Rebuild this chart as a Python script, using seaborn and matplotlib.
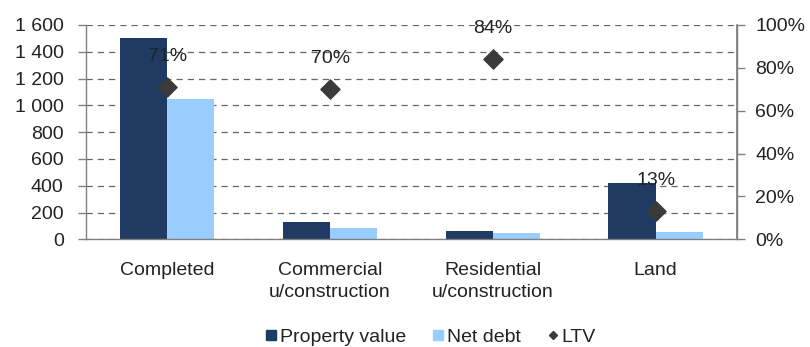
import matplotlib
matplotlib.use("Agg")
import matplotlib.pyplot as plt
import matplotlib.ticker as mticker
from matplotlib.lines import Line2D
import numpy as np
import pandas as pd
import seaborn as sns

categories = ["Completed", "Commercial\nu/construction", "Residential\nu/construction", "Land"]
property_value = [1500, 130, 60, 420]
net_debt = [1050, 85, 50, 55]
ltv = [71, 70, 84, 13]
ltv_labels = ["71%", "70%", "84%", "13%"]
series_names = ["Property value", "Net debt", "LTV"]

dark = "#1F3B63"
light = "#99CCFF"
marker_col = "#3A3A3A"
axis_col = "#808080"
text_col = "#222222"

sns.set_theme(style="white")
plt.rcParams["font.family"] = ["Liberation Sans", "DejaVu Sans"]
plt.rcParams["font.size"] = 14

df = pd.DataFrame({
    "category": categories * 2,
    "series": [series_names[0]] * 4 + [series_names[1]] * 4,
    "value": property_value + net_debt,
})

fig = plt.figure(figsize=(8.1, 3.47), dpi=100)
ax = fig.add_axes([0.106, 0.3104, 0.804, 0.6176])

sns.barplot(data=df, x="category", y="value", hue="series",
            palette=[dark, light], width=0.58, gap=0, dodge=True,
            saturation=1, legend=False, ax=ax, edgecolor="none")

ax.set_xlim(-0.5, 3.5)
ax.set_ylim(0, 1600)
ax.set_yticks(np.arange(0, 1601, 200))
ax.yaxis.set_major_formatter(mticker.FuncFormatter(lambda v, p: f"{int(v):,}".replace(",", " ")))
ax.set_xlabel("")
ax.set_ylabel("")

# category boundary ticks
ax.set_xticks([-0.5, 0.5, 1.5, 2.5, 3.5], minor=False)
ax.set_xticklabels([])
ax.set_xticks(range(4), minor=True)
ax.set_xticklabels(categories, minor=True, fontsize=14, color=text_col, linespacing=1.45)
ax.tick_params(axis="x", which="minor", length=0, pad=16)
ax.tick_params(axis="x", which="major", length=6, width=1, color=axis_col, direction="out")
ax.tick_params(axis="y", length=6, width=1, color=axis_col, direction="out",
               labelsize=14, labelcolor=text_col, pad=10)

ax.yaxis.grid(True, linestyle=(0, (5, 4)), color="#666666", linewidth=0.9)
ax.set_axisbelow(True)
for side in ["left", "bottom", "right"]:
    ax.spines[side].set_color(axis_col)
    ax.spines[side].set_linewidth(1)
ax.spines["top"].set_visible(False)

ax2 = ax.twinx()
ax2.set_ylim(0, 100)
ax2.scatter(range(4), ltv, marker="D", s=95, color=marker_col, zorder=5)
for i, (v, lab) in enumerate(zip(ltv, ltv_labels)):
    ax2.annotate(lab, (i, v), xytext=(0, 22), textcoords="offset points",
                 ha="center", va="center", fontsize=14, color=text_col)
ax2.set_yticks(np.arange(0, 101, 20))
ax2.yaxis.set_major_formatter(mticker.FuncFormatter(lambda v, p: f"{int(v)}%"))
ax2.tick_params(axis="y", length=6, width=1, color=axis_col, direction="out",
                labelsize=14, labelcolor=text_col, pad=7)
for side in ["left", "bottom", "top"]:
    ax2.spines[side].set_visible(False)
ax2.spines["right"].set_color(axis_col)
ax2.grid(False)
ax2.set_xlim(-0.5, 3.5)

handles = [
    Line2D([], [], marker="s", linestyle="none", color=dark, markersize=7),
    Line2D([], [], marker="s", linestyle="none", color=light, markersize=7),
    Line2D([], [], marker="D", linestyle="none", color=marker_col, markersize=4.5),
]
fig.legend(handles, series_names, loc="center", bbox_to_anchor=(0.53, 0.028),
           ncol=3, frameon=False, fontsize=14, handletextpad=0.0,
           columnspacing=1.2, handlelength=0.9, labelcolor=text_col)

fig.savefig("out.png", dpi=100)
